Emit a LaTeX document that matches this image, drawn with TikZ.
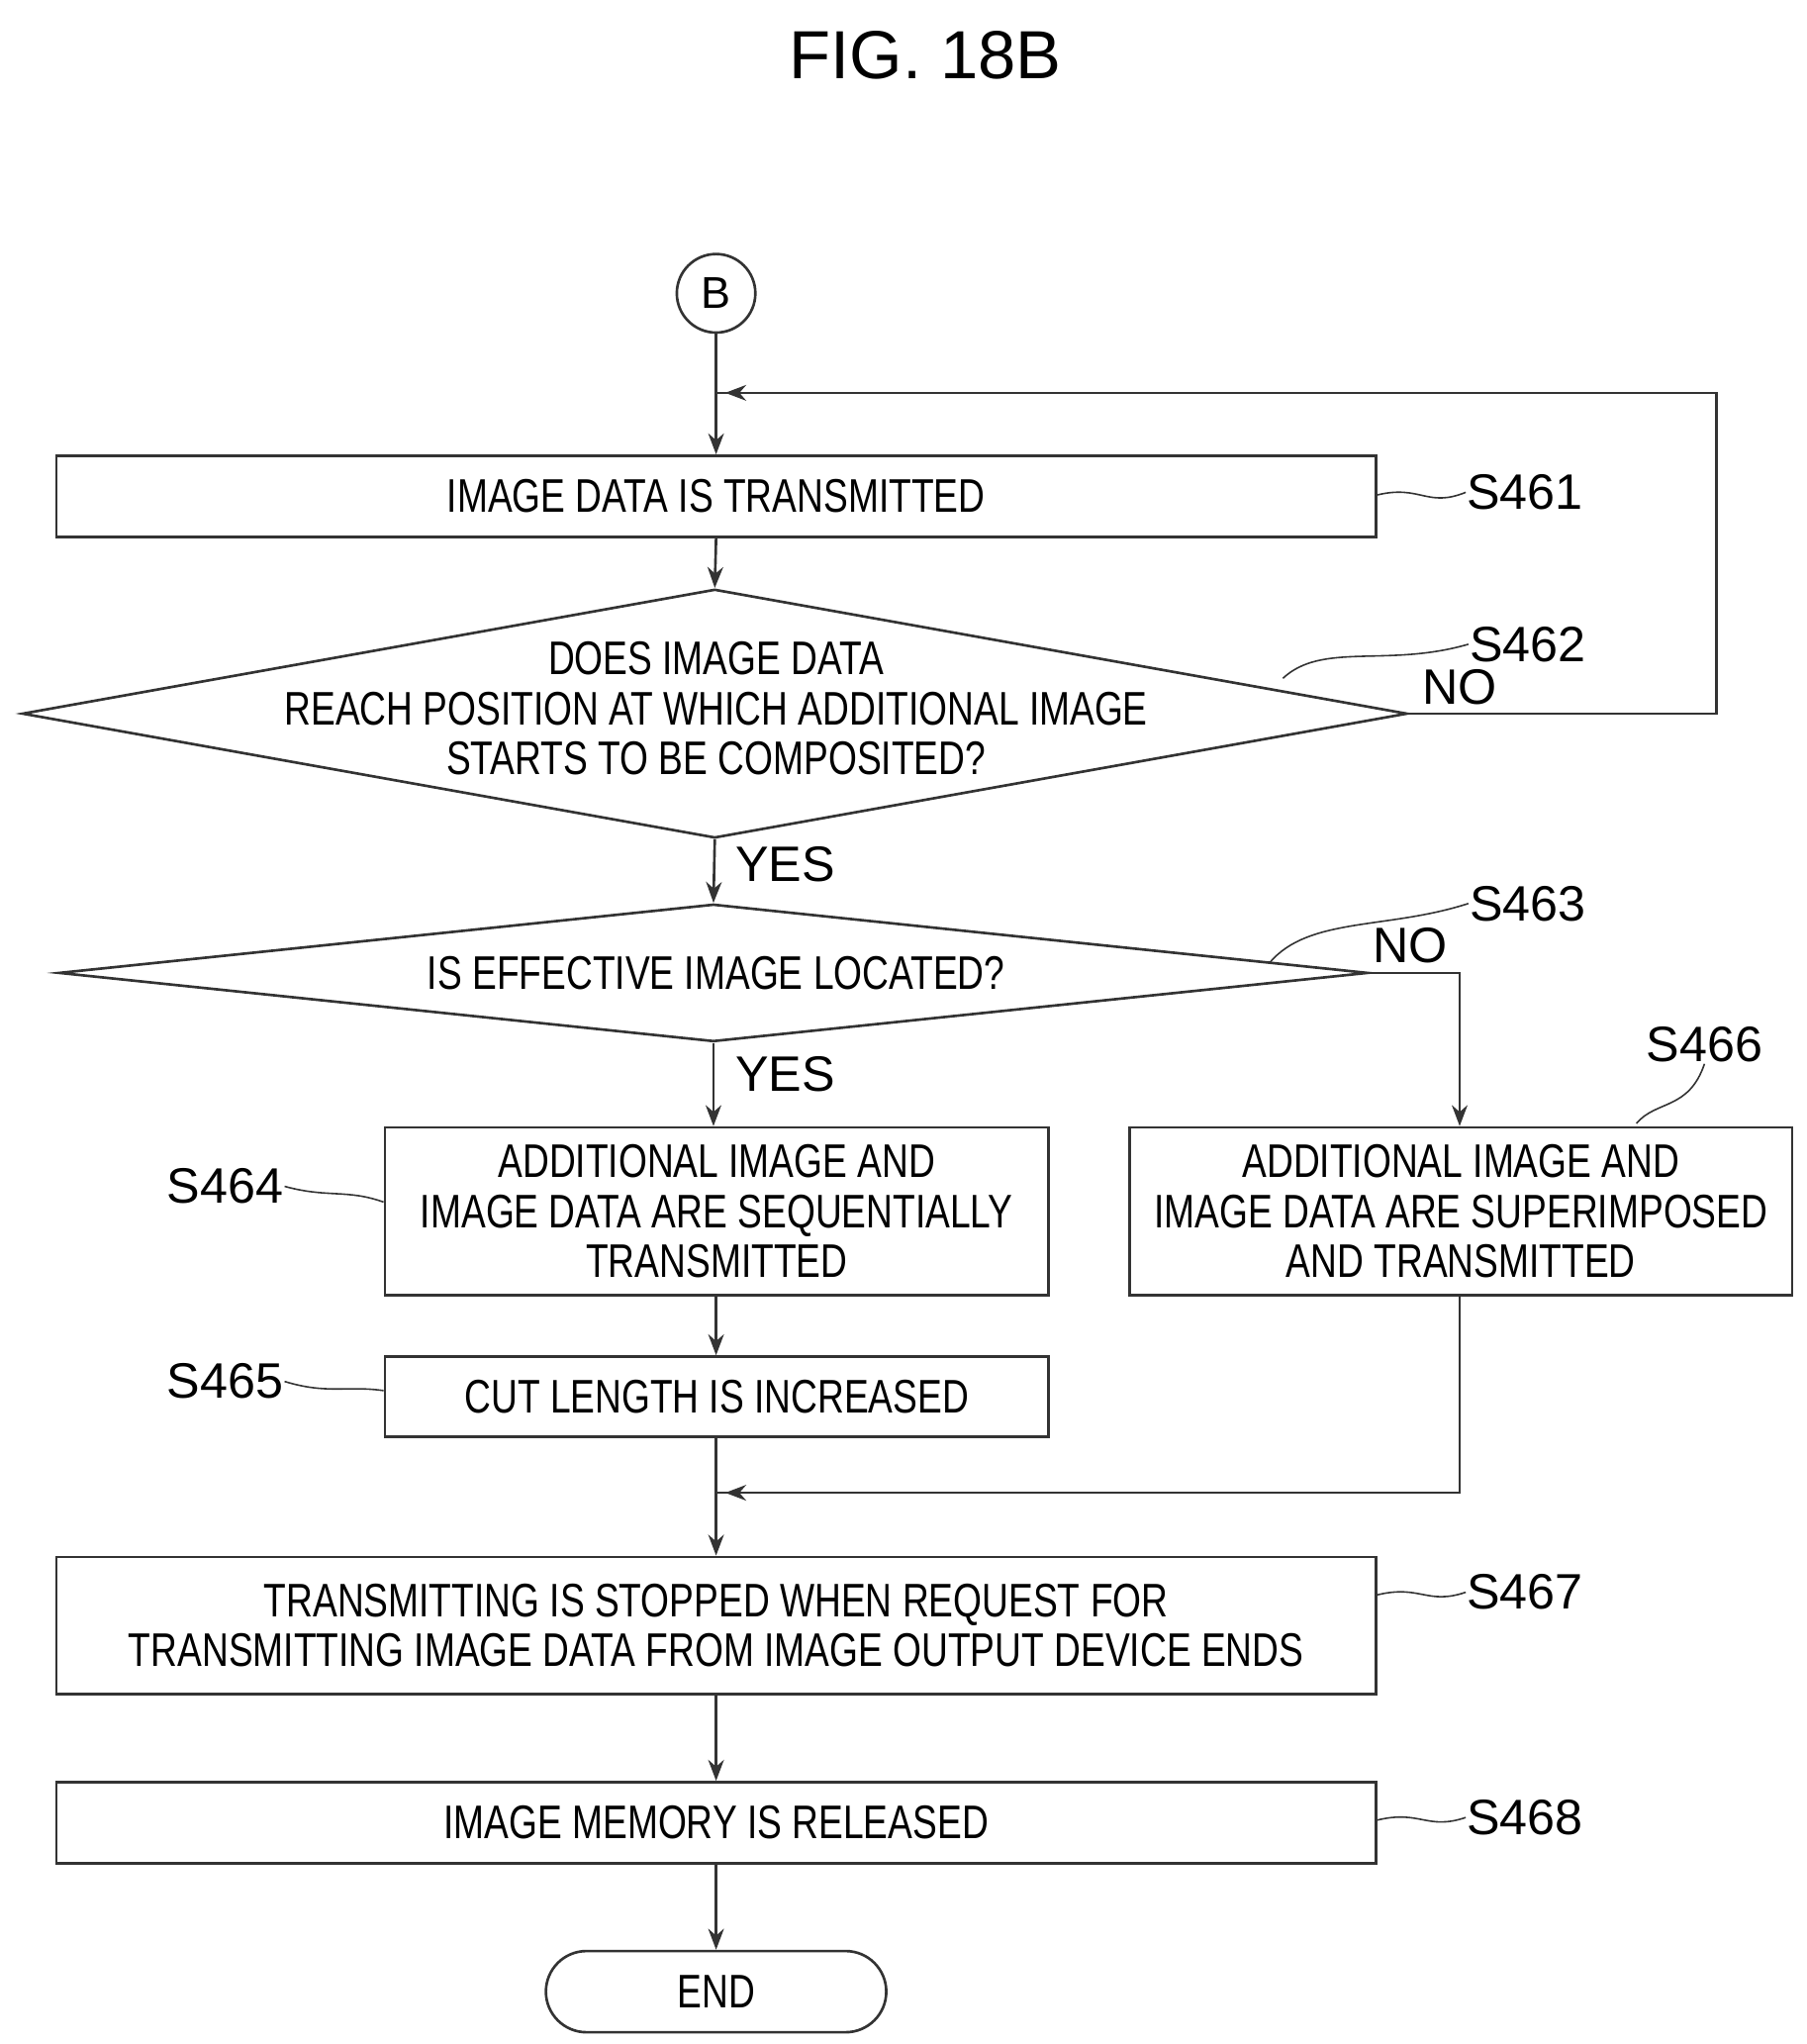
\documentclass[tikz,border=0pt]{standalone}
\usepackage{fontspec}
\setmainfont{Liberation Sans}
\usetikzlibrary{shapes.geometric,shapes.misc,arrows.meta}
\newcommand\nt[1]{\scalebox{0.78}[1]{#1}}
\begin{document}
\begin{tikzpicture}[x=1pt,y=-1pt,
  line width=2pt, draw=black!80,
  box/.style={draw, rectangle, inner sep=0, anchor=north west},
  dia/.style={draw, diamond, inner sep=0},
  txt/.style={font=\fontsize{36}{40}\selectfont, align=center, inner sep=0},
  lab/.style={font=\fontsize{38}{42}\selectfont, inner sep=0},
  arr/.style={-{Stealth[length=16pt,width=12pt]}}]
\useasboundingbox (0,0) rectangle (1380,1561);
\node[font=\fontsize{52}{56}\selectfont] (title) at (707,42) {FIG. 18B};
\node[draw, circle, minimum size=60pt, inner sep=0, font=\fontsize{34}{36}\selectfont] (B) at (547,224) {B};
\coordinate (j1) at (547,300);
\node[box, minimum width=1008pt, minimum height=62pt] (s461) at (42,347) {};
\node[txt] at (s461.center) {\nt{IMAGE DATA IS TRANSMITTED}};
\node[dia, minimum width=1058pt, minimum height=190pt] (s462) at (546,545) {};
\node[txt] at (547,541) {\nt{DOES IMAGE DATA}\\[-2pt]\nt{REACH POSITION AT WHICH ADDITIONAL IMAGE}\\[-2pt]\nt{STARTS TO BE COMPOSITED?}};
\node[dia, minimum width=1000pt, minimum height=105pt] (s463) at (545,743) {};
\node[txt] at (547,743) {\nt{IS EFFECTIVE IMAGE LOCATED?}};
\node[box, minimum width=507pt, minimum height=128pt] (s464) at (293,860) {};
\node[txt] at (s464.center) {\nt{ADDITIONAL IMAGE AND}\\[-2pt]\nt{IMAGE DATA ARE SEQUENTIALLY}\\[-2pt]\nt{TRANSMITTED}};
\node[box, minimum width=506pt, minimum height=128pt] (s466) at (862,860) {};
\node[txt] at (s466.center) {\nt{ADDITIONAL IMAGE AND}\\[-2pt]\nt{IMAGE DATA ARE SUPERIMPOSED}\\[-2pt]\nt{AND TRANSMITTED}};
\node[box, minimum width=507pt, minimum height=61pt] (s465) at (293,1035) {};
\node[txt] at (s465.center) {\nt{CUT LENGTH IS INCREASED}};
\coordinate (j2) at (547,1140);
\node[box, minimum width=1008pt, minimum height=105pt] (s467) at (42,1188) {};
\node[txt] at (s467.center) {\nt{TRANSMITTING IS STOPPED WHEN REQUEST FOR}\\[-2pt]\nt{TRANSMITTING IMAGE DATA FROM IMAGE OUTPUT DEVICE ENDS}};
\node[box, minimum width=1008pt, minimum height=62pt] (s468) at (42,1360) {};
\node[txt] at (s468.center) {\nt{IMAGE MEMORY IS RELEASED}};
\node[draw, rounded rectangle, minimum width=260pt, minimum height=62pt, inner sep=0] (end) at (547,1521) {};
\node[txt] at (end.center) {\nt{END}};
% step labels
\node[lab] (l461) at (1165,376) {S461};
\node[lab] (l462) at (1167,492) {S462};
\node[lab] (l463) at (1167,690) {S463};
\node[lab] (l464) at (172,906) {S464};
\node[lab] (l465) at (172,1055) {S465};
\node[lab] (l466) at (1302,798) {S466};
\node[lab] (l467) at (1165,1216) {S467};
\node[lab] (l468) at (1165,1388) {S468};
\node[lab] (no1) at (1115,525) {NO};
\node[lab] (no2) at (1077,722) {NO};
\node[lab] (yes1) at (600,660) {YES};
\node[lab] (yes2) at (600,820) {YES};
\begin{scope}[line width=1.2pt]
\draw (s461.east |- 0,378) .. controls (1085,370) and (1090,388) .. (l461.west);
\draw (980,518) .. controls (1010,490) and (1060,510) .. (l462.west);
\draw (970,735) .. controls (1000,700) and (1060,710) .. (l463.west);
\draw (l464.east) .. controls (250,915) and (265,908) .. (s464.west |- 0,918);
\draw (l465.east) .. controls (250,1065) and (265,1058) .. (s465.west |- 0,1062);
\draw (1250,858) .. controls (1265,840) and (1290,848) .. (l466.south);
\draw (s467.east |- 0,1218) .. controls (1085,1210) and (1090,1226) .. (l467.west);
\draw (s468.east |- 0,1390) .. controls (1085,1382) and (1090,1398) .. (l468.west);
\end{scope}
% connectors
\draw[arr] (B) -- (s461.north -| B);
\draw[arr] (s461.south -| B) -- (s462.north);
\draw (s462.east) -- (1311,545) -- (1311,300) -- (j1);
\draw[arr] (1311,300) -- (554,300);
\draw[arr] (s462.south) -- (s463.north);
\draw[arr] (s463.south) -- (s464.north -| s463.south);
\draw[arr] (s463.east) -- (1115,743) -- (s466.north -| 1115,0);
\draw[arr] (s464.south -| B) -- (s465.north -| B);
\draw (s465.south -| B) -- (j2);
\draw (s466.south -| 1115,0) -- (1115,1140) -- (j2);
\draw[arr] (1115,1140) -- (554,1140);
\draw[arr] (j2) -- (s467.north -| B);
\draw[arr] (s467.south -| B) -- (s468.north -| B);
\draw[arr] (s468.south -| B) -- (end.north);
\end{tikzpicture}
\end{document}
